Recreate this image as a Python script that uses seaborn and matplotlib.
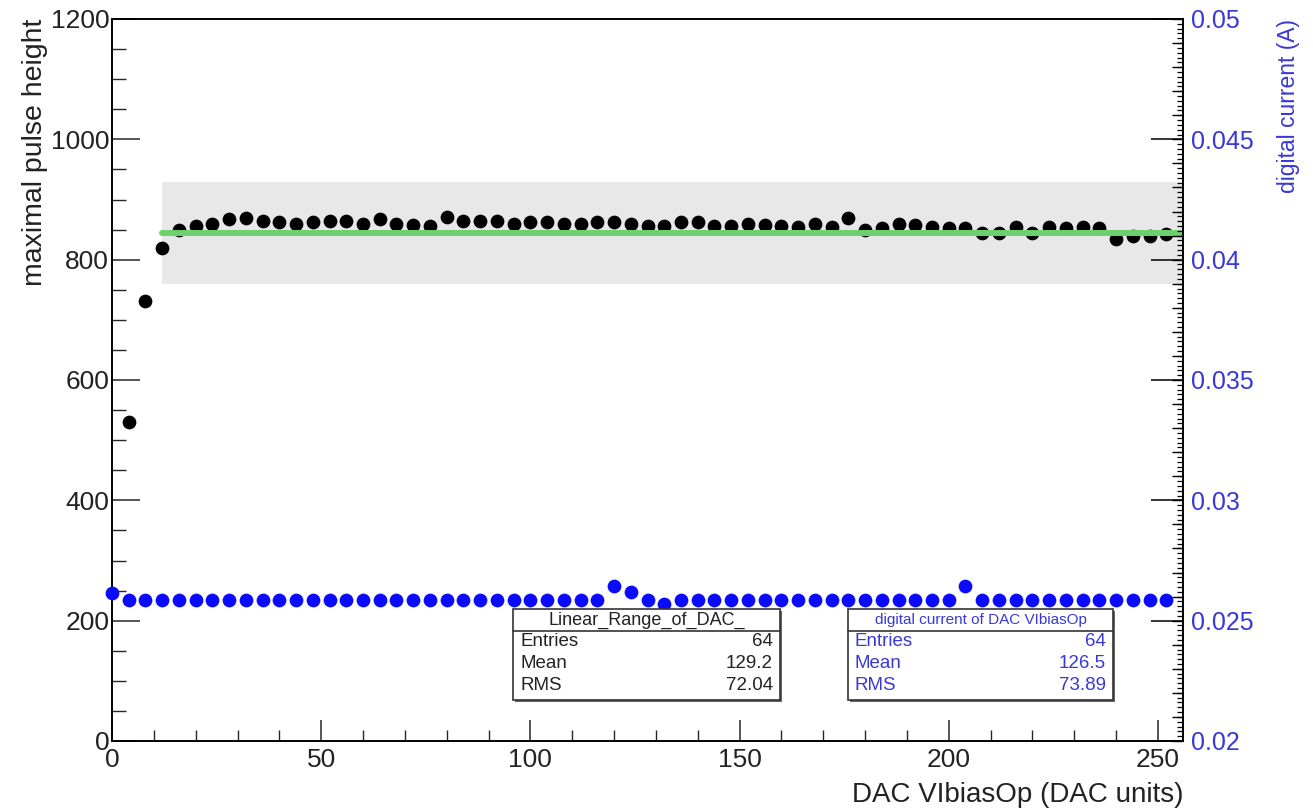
import numpy as np
import matplotlib
matplotlib.use("Agg")
import matplotlib.pyplot as plt
from matplotlib.patches import Rectangle
from matplotlib.ticker import MultipleLocator, FuncFormatter, NullFormatter, NullLocator
import seaborn as sns

# ---- data -------------------------------------------------------------
# DAC scan of VIbiasOp: maximal pulse height per DAC setting
dac_pulse = list(range(4, 256, 4))
pulse_height = [
    531, 732, 820, 850, 856, 859, 867, 870, 864, 862,
    860, 862, 864, 864, 860, 867, 859, 858, 856, 871,
    864, 864, 864, 860, 863, 862, 859, 860, 863, 862,
    859, 856, 856, 862, 862, 856, 856, 860, 857, 856,
    854, 859, 854, 869, 850, 852, 859, 857, 854, 853,
    853, 845, 845, 854, 845, 854, 853, 854, 853, 835,
    839, 839, 843,
]

# digital current (A) per DAC setting
dac_current = list(range(0, 256, 4))
digital_current = [0.02585] * len(dac_current)
digital_current[0] = 0.02615
digital_current[30] = 0.02645   # DAC 120
digital_current[31] = 0.02620   # DAC 124
digital_current[33] = 0.02570   # DAC 132
digital_current[51] = 0.02645   # DAC 204

# constant fit of the linear range
fit_level = 844.0
fit_range = [12, 256]
band_fraction = 0.10

# statistics boxes
stats_pulse = {"title": "Linear_Range_of_DAC_", "Entries": "64", "Mean": "129.2", "RMS": "72.04"}
stats_current = {"title": "digital current of DAC VIbiasOp", "Entries": "64", "Mean": "126.5", "RMS": "73.89"}

x_limits = [0, 256]
y_limits = [0, 1200]
y2_limits = [0.02, 0.05]

# ---- style ------------------------------------------------------------
sns.set_style("ticks")
plt.rcParams["font.family"] = ["Liberation Sans", "DejaVu Sans"]

W, H = 1313, 811
fig = plt.figure(figsize=(W / 100, H / 100), dpi=100)


def fx(px):
    return px / W


def fy(py):
    return 1 - py / H


BLUE = "#0a0aff"
BLUE_TXT = "#3838d8"
GREEN = "#6dd06d"
BAND = "#e8e8e8"
TXT = "#222222"

ax = fig.add_axes([fx(112), fy(741), fx(1183) - fx(112), fy(19) - fy(741)])
ax.set_xlim(*x_limits)
ax.set_ylim(*y_limits)

# tolerance band and fitted constant
ax.fill_between(fit_range, fit_level * (1 - band_fraction), fit_level * (1 + band_fraction),
                color=BAND, linewidth=0, zorder=0.5)
sns.scatterplot(x=dac_pulse, y=pulse_height, ax=ax, color="black", s=98,
                linewidth=0, zorder=2, legend=False)
sns.lineplot(x=fit_range, y=[fit_level, fit_level], ax=ax, color=GREEN,
             linewidth=4.3, zorder=3, legend=False)

ax.xaxis.set_major_locator(MultipleLocator(50))
ax.xaxis.set_minor_locator(MultipleLocator(10))
ax.yaxis.set_major_locator(MultipleLocator(200))
ax.yaxis.set_minor_locator(MultipleLocator(50))
ax.tick_params(axis="x", which="major", direction="in", length=15, width=1.1,
               top=False, labelsize=19, pad=5, labelcolor=TXT)
ax.tick_params(axis="x", which="minor", direction="in", length=8, width=1.0, top=False)
ax.tick_params(axis="y", which="major", direction="in", length=20, width=1.1,
               right=False, labelsize=19, pad=2, labelcolor=TXT)
ax.tick_params(axis="y", which="minor", direction="in", length=10, width=1.0, right=False)
for sp in ax.spines.values():
    sp.set_visible(True)
    sp.set_linewidth(1.2)
    sp.set_color("black")
ax.set_xlabel("")
ax.set_ylabel("")

# secondary axis: digital current
ax2 = ax.twinx()
ax2.set_ylim(*y2_limits)
sns.scatterplot(x=dac_current, y=digital_current, ax=ax2, color=BLUE, s=98,
                linewidth=0, zorder=4, legend=False, clip_on=False)
ax2.yaxis.set_major_locator(MultipleLocator(0.005))
ax2.yaxis.set_minor_locator(MultipleLocator(0.0002))
ax2.yaxis.set_major_formatter(FuncFormatter(lambda v, p: f"{v:g}"))
ax2.tick_params(axis="y", which="major", direction="in", length=23, width=1.1,
                labelsize=18, labelcolor=BLUE_TXT, pad=6, color="black")
ax2.tick_params(axis="y", which="minor", direction="in", length=4, width=0.9, color="black")
ax2.set_ylabel("")
for sp in ax2.spines.values():
    sp.set_linewidth(1.2)
    sp.set_color("black")

# intermediate ticks every 0.001 on the current axis
sec = ax2.secondary_yaxis("right")
sec.yaxis.set_major_locator(MultipleLocator(0.001))
sec.yaxis.set_major_formatter(NullFormatter())
sec.yaxis.set_minor_locator(NullLocator())
sec.tick_params(axis="y", direction="in", length=8, width=1.0, color="black")
sec.spines["right"].set_linewidth(1.2)

# axis titles
fig.text(fx(35), fy(19), "maximal pulse height", rotation=90, ha="center", va="top",
         fontsize=20.5, color=TXT)
fig.text(fx(1288), fy(19), "digital current (A)", rotation=90, ha="center", va="top",
         fontsize=16.5, color=BLUE_TXT)
fig.text(fx(1183), fy(795), "DAC VIbiasOp (DAC units)", ha="right", va="center",
         fontsize=20, color=TXT)


# statistics panels
def stats_box(left, right, top, bottom, header_bottom, stats, color, title_size):
    fig.add_artist(Rectangle((fx(left + 2), fy(bottom + 2)), fx(right - left), fy(top) - fy(bottom),
                             transform=fig.transFigure, facecolor="#666666", edgecolor="none",
                             zorder=5))
    fig.add_artist(Rectangle((fx(left), fy(bottom)), fx(right - left), fy(top) - fy(bottom),
                             transform=fig.transFigure, facecolor="white", edgecolor="#333333",
                             linewidth=1.2, zorder=6))
    fig.add_artist(plt.Line2D([fx(left), fx(right)], [fy(header_bottom), fy(header_bottom)],
                              transform=fig.transFigure, color="#333333", linewidth=1.2, zorder=7))
    fig.text(fx((left + right) / 2), fy((top + header_bottom) / 2), stats["title"],
             ha="center", va="center", fontsize=title_size, color=color, zorder=8)
    for i, key in enumerate(["Entries", "Mean", "RMS"]):
        yy = fy(642 + 22 * i)
        fig.text(fx(left + 7), yy, key, ha="left", va="center", fontsize=13.5, color=color, zorder=8)
        fig.text(fx(right - 7), yy, stats[key], ha="right", va="center", fontsize=13.5,
                 color=color, zorder=8)


stats_box(513, 780, 609, 700, 631, stats_pulse, TXT, 13)
stats_box(848, 1113, 609, 700, 631, stats_current, BLUE_TXT, 11)

fig.savefig("out.png", dpi=100)
